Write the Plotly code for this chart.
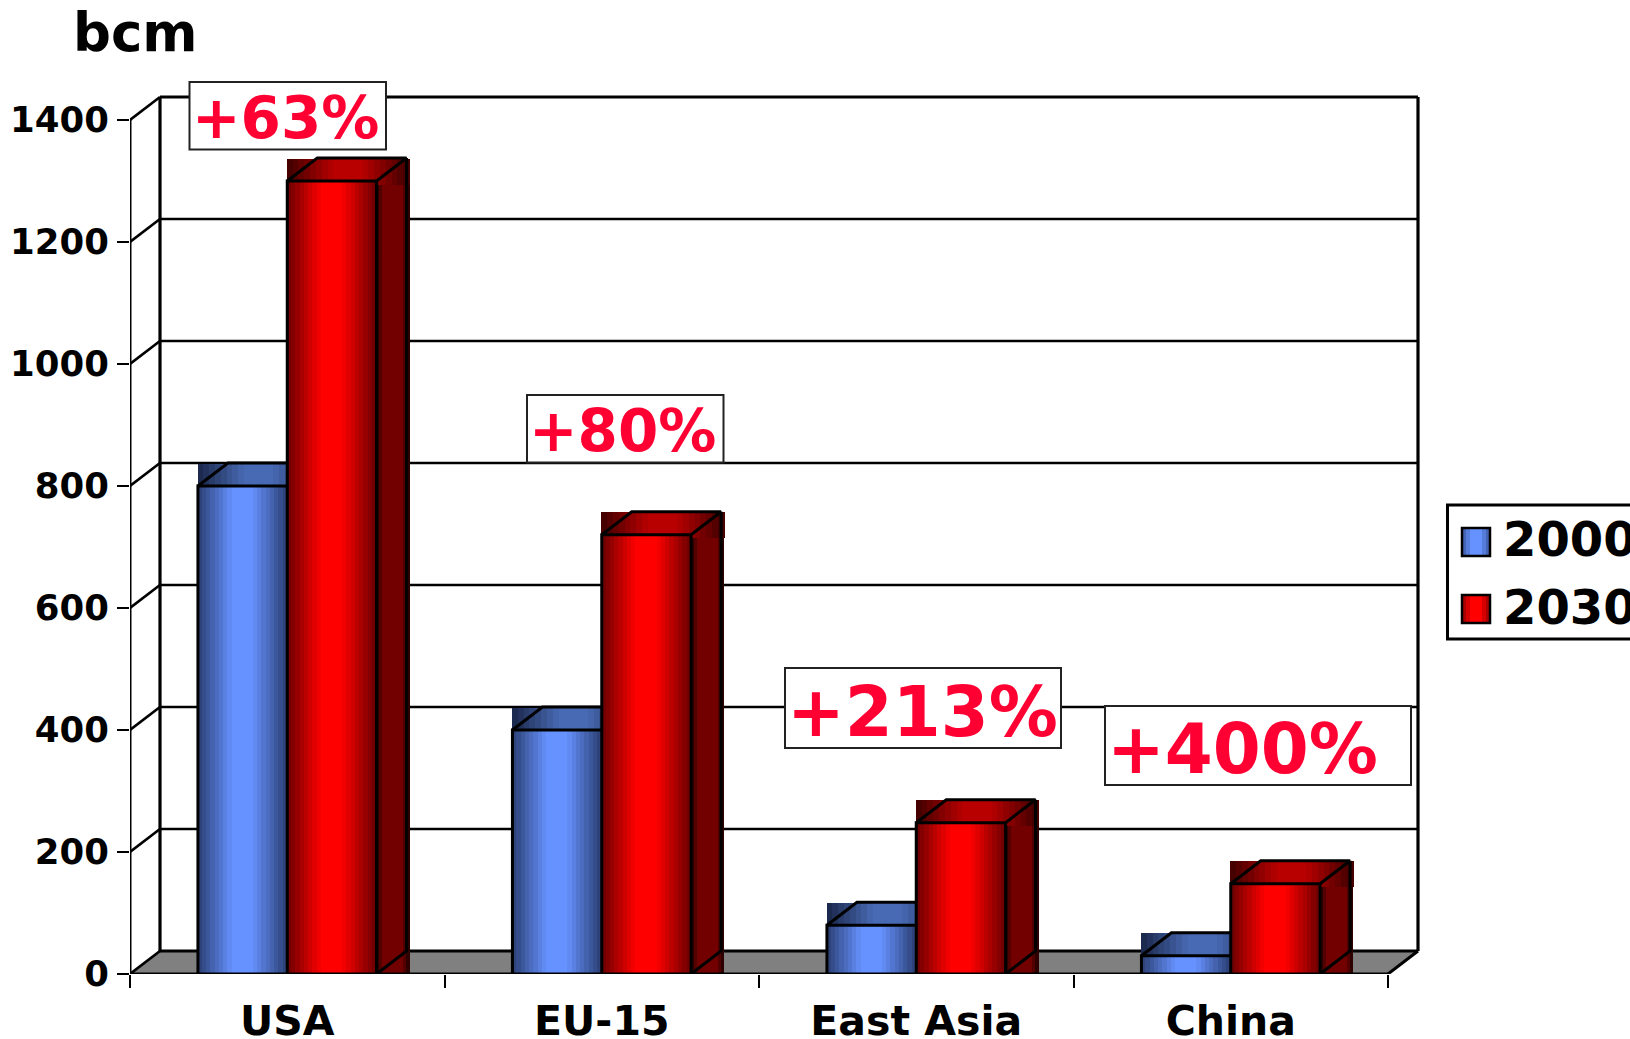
import plotly.graph_objects as go

categories = ["USA", "EU-15", "East Asia", "China"]
values_2000 = [800, 400, 80, 30]
values_2030 = [1300, 720, 248, 148]
growth_labels = ["+63%", "+80%", "+213%", "+400%"]
y_ticks = [0, 200, 400, 600, 800, 1000, 1200, 1400]
series_names = ["2000", "2030"]

W_PX, H_PX = 1630, 1039
X0_PX, X4_PX, XB_PX = 130.0, 1388.0, 1418.0
Y0_PX, Y1400_PX, YB_PX = 974.0, 120.0, 96.5
PAD = 6.0                       # room so the wall lines are not clipped by the plot area
ux = (X4_PX - X0_PX) / 4
uy = (Y0_PX - Y1400_PX) / 1400
dx = (XB_PX - X4_PX) / ux       # depth in x units
dy = (Y0_PX - 951.0) / uy       # depth in y units
xback = 4 + dx
xmax = (XB_PX + PAD - X0_PX) / ux
ymax = (Y0_PX - YB_PX + PAD) / uy
BAR_W = 0.284
FONT = "DejaVu Sans"
BELOW = 4.0 / uy                # painted faces run slightly under the floor line


def px(v):
    return v / W_PX


def py(v):
    return 1 - v / H_PX


def mix(a, b, t):
    return "rgb(%d,%d,%d)" % tuple(round(a[i] + (b[i] - a[i]) * t) for i in range(3))


def ramp(edge, centre, n, plateau=0.22):
    out = []
    for k in range(n):
        t = (k + 0.5) / n
        d = min(1.0, abs(t - 0.5) / 0.5)
        d = max(0.0, (d - plateau) / (1 - plateau))
        out.append(mix(centre, edge, d))
    return out


FRONT = [ramp((42, 62, 112), (102, 146, 255), 21), ramp((105, 0, 0), (255, 0, 0), 21)]
TOP = [ramp((26, 38, 72), (72, 106, 180), 21), ramp((62, 0, 0), (185, 0, 0), 21)]
SIDE = ramp((30, 0, 0), (115, 0, 0), 11, 0.55)

fig = go.Figure()
shapes = []
annotations = []


def lines(segments, width, color="black"):
    xs, ys = [], []
    for seg in segments:
        xs += [p[0] for p in seg] + [None]
        ys += [p[1] for p in seg] + [None]
    fig.add_trace(go.Scatter(x=xs, y=ys, mode="lines", cliponaxis=False, showlegend=False,
                             hoverinfo="skip", line=dict(color=color, width=width)))


def back_line(p0, p1, width):
    shapes.append(dict(type="line", xref="x", yref="y", layer="below", x0=p0[0], y0=p0[1], x1=p1[0], y1=p1[1],
                       line=dict(color="black", width=width)))


# floor
shapes.append(dict(type="path", xref="x", yref="y", layer="below",
                   path=f"M 0 0 L 4 0 L {xback} {dy} L {dx} {dy} Z", fillcolor="#808080", line=dict(width=0)))
# gridlines on the walls
for v in y_ticks:
    lw = 3.2 if v in (y_ticks[0], y_ticks[-1]) else 2.6
    back_line((0, v), (dx, v + dy), 2.6)
    back_line((dx, v + dy), (xback, v + dy), lw)
back_line((0, 0), (0, y_ticks[-1]), 3)
back_line((dx, dy), (dx, y_ticks[-1] + dy), 3.2)
back_line((xback, dy), (xback, y_ticks[-1] + dy), 3.2)
back_line((4, 0), (xback, dy), 3)

centres = [i + 0.5 for i in range(len(categories))]
side_w = dx * 1.1
top_w = BAR_W + side_w

left_2000 = [c - BAR_W for c in centres]
left_2030 = list(centres)
right_2030 = [c + BAR_W for c in centres]


def slices(lefts, total_w, heights, bases, cols):
    n = len(cols)
    w = total_w / n
    for k, col in enumerate(cols):
        fig.add_trace(go.Bar(x=[l + (k + 0.5) * w for l in lefts], y=heights, base=bases, width=w * 1.15,
                             marker=dict(color=col, line=dict(width=0)), showlegend=False,
                             hoverinfo="skip", cliponaxis=False))


top_h = dy + 3 / uy
# 2000 series: its right part is hidden by the taller 2030 bar
slices(left_2000, top_w, [top_h] * 4, [v - 3 / uy for v in values_2000], TOP[0])
slices(left_2000, BAR_W, [v + BELOW for v in values_2000], [-BELOW] * 4, FRONT[0])
# 2030 series
slices(right_2030, side_w, [v + BELOW for v in values_2030], [-BELOW] * 4, SIDE)
slices(left_2030, top_w, [top_h] * 4, [v - 3 / uy for v in values_2030], TOP[1])
slices(left_2030, BAR_W, [v + BELOW for v in values_2030], [-BELOW] * 4, FRONT[1])

# edges
segs = []
for l, r, v in zip(left_2000, left_2030, values_2000):
    segs.append([(l, 0), (l, v), (r, v)])
    segs.append([(l, v), (l + dx, v + dy), (r, v + dy)])
for l, r, v in zip(left_2030, right_2030, values_2030):
    segs.append([(l, 0), (l, v), (r, v), (r, 0)])
    segs.append([(l, v), (l + dx, v + dy), (r + dx, v + dy), (r, v)])
    segs.append([(r + dx, v + dy), (r + dx, dy), (r, 0)])
lines(segs, 3)

# front floor edge runs over the bars
lines([[(0, 0), (4, 0)]], 3.2)

# growth labels
boxes = [(189.5, 386, 82, 149.5), (527, 723.5, 395, 462.5), (785, 1061, 668, 748), (1105, 1411, 706, 785)]
text_left = [190, 527, 785, 1105]
sizes = [58, 58, 69, 69]
text_mid = [118, 431, 712, 749]
for lab, b, tl, sz, tm in zip(growth_labels, boxes, text_left, sizes, text_mid):
    shapes.append(dict(type="rect", xref="paper", yref="paper", x0=px(b[0]), x1=px(b[1]),
                       y0=py(b[2]), y1=py(b[3]), fillcolor="white", line=dict(color="#222222", width=2)))
    annotations.append(dict(text=lab, xref="paper", yref="paper", x=px(tl), y=py(tm), xanchor="left",
                            yanchor="middle", showarrow=False,
                            font=dict(family=FONT, size=sz, color="#FF0033", weight=700)))

# unit label
annotations.append(dict(text="bcm", xref="paper", yref="paper", x=px(71), y=py(33), xanchor="left",
                        yanchor="middle", showarrow=False,
                        font=dict(family=FONT, size=53, color="black", weight=700)))

# legend
shapes.append(dict(type="rect", xref="paper", yref="paper", x0=px(1447.5), x1=px(1660), y0=py(505), y1=py(639),
                   fillcolor="white", line=dict(color="black", width=3)))
swatch_tops = [528, 595]
legend_mid = [539, 607]
swatch_edges = [(58, 90, 160), (150, 0, 0)]
swatch_centres = [(102, 146, 255), (255, 0, 0)]
for s, name in enumerate(series_names):
    cols = ramp(swatch_edges[s], swatch_centres[s], 7, 0.3)
    n = len(cols)
    sw = 28.0
    for k, col in enumerate(cols):
        shapes.append(dict(type="rect", xref="paper", yref="paper", x0=px(1462 + k * sw / n),
                           x1=px(1462 + (k + 1) * sw / n + 0.4), y0=py(swatch_tops[s]), y1=py(swatch_tops[s] + 28),
                           fillcolor=col, line=dict(width=0)))
    shapes.append(dict(type="rect", xref="paper", yref="paper", x0=px(1462), x1=px(1490),
                       y0=py(swatch_tops[s]), y1=py(swatch_tops[s] + 28), line=dict(color="black", width=2.5)))
    annotations.append(dict(text=name, xref="paper", yref="paper", x=px(1501), y=py(legend_mid[s]), xanchor="left",
                            yanchor="middle", showarrow=False,
                            font=dict(family=FONT, size=48, color="black", weight=700)))

fig.update_layout(
    width=W_PX, height=H_PX, margin=dict(l=0, r=0, t=0, b=0), paper_bgcolor="white", plot_bgcolor="white",
    barmode="overlay", bargap=0, showlegend=False, shapes=shapes, annotations=annotations,
    xaxis=dict(domain=[px(X0_PX), px(XB_PX + PAD)], range=[0, xmax], showgrid=False, zeroline=False, showline=False,
               automargin=False,
               tickmode="array", tickvals=centres, ticktext=categories, ticks="outside", ticklen=0,
               ticklabelstandoff=11,
               tickfont=dict(family=FONT, size=41, color="black", weight=700),
               minor=dict(tickmode="array", tickvals=[0, 1, 2, 3, 4], ticks="outside", ticklen=13, tickwidth=2.4,
                          tickcolor="black", showgrid=False)),
    yaxis=dict(domain=[py(Y0_PX), py(YB_PX - PAD)], range=[0, ymax], showgrid=False, zeroline=False, showline=False,
               automargin=False,
               tickmode="array", tickvals=y_ticks, ticks="outside", ticklen=12, tickwidth=2.4, tickcolor="black",
               ticklabelstandoff=1,
               tickfont=dict(family=FONT, size=35.5, color="black", weight=700)),
)

fig.write_html("out.html", config=dict(displayModeBar=False), post_script="document.body.style.margin='0';")
